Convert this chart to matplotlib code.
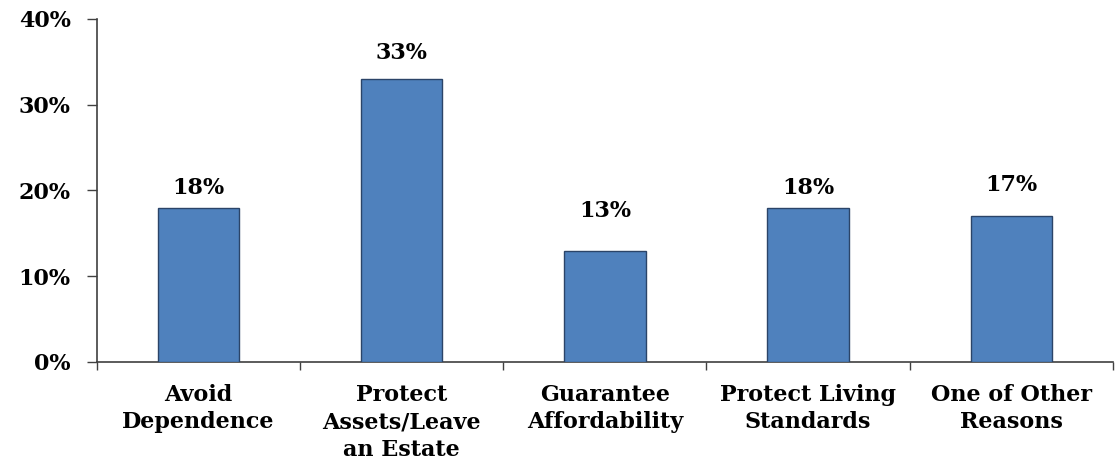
import numpy as np
import matplotlib.pyplot as plt
from matplotlib.ticker import FixedLocator

categories = ["Avoid\nDependence", "Protect\nAssets/Leave\nan Estate", "Guarantee\nAffordability",
              "Protect Living\nStandards", "One of Other\nReasons"]
values = [18, 33, 13, 18, 17]
label_gap = [20, 26, 40, 20, 31]  # px above each bar
yticks = [0, 10, 20, 30, 40]

plt.rcParams['font.family'] = ['DejaVu Serif']
plt.rcParams['font.weight'] = 'bold'

fig = plt.figure(figsize=(11.15, 4.62), dpi=100)
ax = fig.add_axes([0.087, 0.2165, 0.911, 0.7424])

x = np.arange(len(categories))
ax.bar(x, values, width=0.4, color='#4F81BD', edgecolor='#2B4468', linewidth=1.0, zorder=3)

for xi, v, g in zip(x, values, label_gap):
    ax.annotate(f"{v}%", (xi, v), xytext=(0, g * 0.72), textcoords='offset points',
                ha='center', va='center', fontsize=16, fontweight='bold')

ax.set_xlim(-0.5, len(categories) - 0.5)
ax.set_ylim(0, 40)
ax.set_yticks(yticks)
ax.set_yticklabels([f"{t}%" for t in yticks], fontsize=16, fontweight='bold')
ax.set_xticks(x)
ax.set_xticklabels(categories, fontsize=16, fontweight='bold', linespacing=1.34)
ax.tick_params(axis='x', length=0, pad=15.5)
ax.tick_params(axis='y', length=7, width=1, color='#404040', pad=12)
ax.xaxis.set_minor_locator(FixedLocator(np.arange(-0.5, len(categories), 1.0)))
ax.tick_params(axis='x', which='minor', length=6, width=1, color='#404040')

for side in ['top', 'right']:
    ax.spines[side].set_visible(False)
for side in ['left', 'bottom']:
    ax.spines[side].set_color('#404040')
    ax.spines[side].set_linewidth(1.2)

fig.savefig('out.png', dpi=100)
